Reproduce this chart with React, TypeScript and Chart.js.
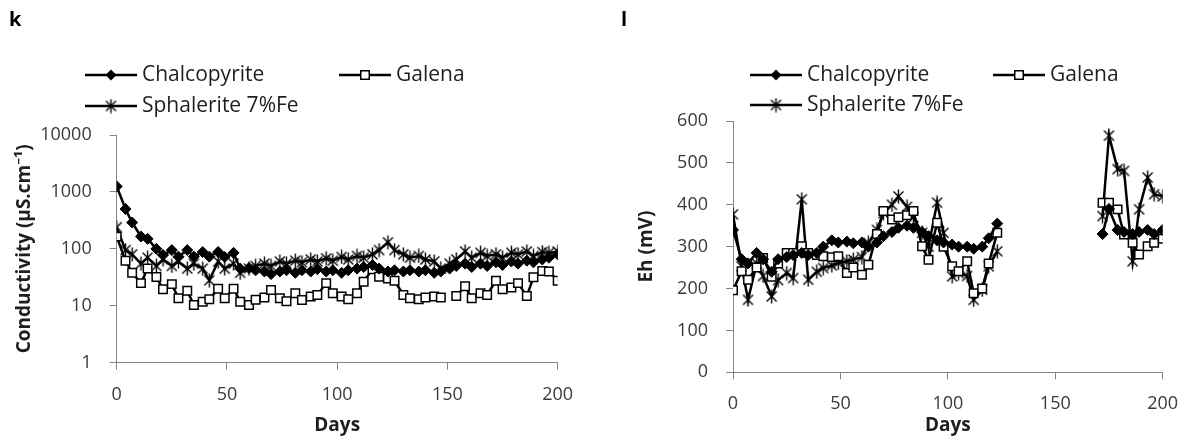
import React, { useEffect, useRef } from 'react';
import { Chart, registerables } from 'chart.js';

Chart.register(...registerables);

// ---------- data ----------
const DAYS = [0, 4, 7, 11, 14, 18, 21, 25, 28, 32, 35, 39, 42, 46, 49, 53, 56, 60, 63, 67, 70, 74, 77, 81, 84, 88, 91, 95, 98, 102, 105, 109, 112, 116, 119, 123, 126, 130, 133, 137, 140, 144, 147, 151, 154, 158, 161, 165, 168, 172, 175, 179, 182, 186, 189, 193, 196, 200];

const SERIES_NAMES = ['Chalcopyrite', 'Galena', 'Sphalerite 7%Fe'];

// Panel k: conductivity (µS/cm), log scale
const COND_CHALCOPYRITE = [1250, 500, 290, 165, 150, 100, 78, 95, 73, 95, 73, 88, 73, 88, 72, 85, 45, 46, 42, 40, 36, 40, 42, 38, 42, 40, 44, 40, 42, 38, 42, 45, 48, 52, 45, 40, 42, 40, 42, 40, 42, 38, 40, 45, 50, 55, 48, 55, 50, 58, 52, 60, 55, 62, 58, 65, 70, 80];
const COND_GALENA = [164, 62, 38, 25, 45, 32, 19.5, 24, 13.5, 18.4, 10.3, 11.8, 13, 20, 13.5, 20, 11.8, 10.3, 12.7, 14, 18.9, 13.5, 12, 16.6, 12.6, 14.5, 15.5, 25, 16.6, 14.5, 13, 16.6, 26.5, 44, 32.5, 30, 27.6, 15.5, 13.5, 13, 14, 14.5, 14, null, 14.8, 22, 13.5, 16.6, 15.5, 27.6, 19.5, 21, 25, 14.8, 31.6, 41, 40, 27.6];
const COND_SPHALERITE = [240, 95, 80, 55, 70, 50, 65, 50, 60, 45, 55, 45, 28, 60, 45, 55, 38, 45, 50, 55, 50, 60, 55, 62, 58, 65, 60, 68, 62, 72, 65, 75, 70, 80, 95, 130, 95, 80, 70, 75, 65, 60, 45, 55, 65, 90, 70, 85, 75, 80, 70, 85, 80, 90, 75, 88, 85, 90];

// Panel l: Eh (mV)
const EH_CHALCOPYRITE = [340, 270, 260, 285, 270, 240, 270, 275, 280, 285, 280, 285, 300, 315, 310, 312, 308, 310, 300, 310, 325, 335, 345, 350, 345, 335, 325, 315, 310, 305, 300, 300, 295, 300, 320, 355, null, null, null, null, null, null, null, null, null, null, null, null, null, 330, 390, 340, 335, 330, 335, 340, 330, 340];
const EH_GALENA = [196, 241, 221, 250, 273, 228, 260, 285, 285, 301, 285, 280, 277, 275, 277, 237, 250, 233, 257, 330, 385, 365, 370, 375, 385, 301, 269, 357, 300, 253, 241, 265, 189, 200, 260, 333, null, null, null, null, null, null, null, null, null, null, null, null, null, 405, 405, 389, 329, 309, 281, 301, 309, 319];
const EH_SPHALERITE = [377, 253, 173, 260, 230, 181, 220, 237, 225, 413, 221, 240, 249, 255, 261, 265, 269, 275, 309, 340, 380, 400, 420, 395, 370, 333, 300, 405, 333, 229, 237, 230, 173, 197, 253, 289, null, null, null, null, null, null, null, null, null, null, null, null, null, 373, 565, 485, 481, 265, 389, 465, 425, 420];

const X_TICKS = [0, 50, 100, 150, 200];
const COND_TICKS = [1, 10, 100, 1000, 10000];
const EH_TICKS = [0, 100, 200, 300, 400, 500, 600];

// ---------- styling ----------
const FONT = '"Open Sans", "Noto Sans", sans-serif';
const AXIS_GRAY = '#868686';
const TICK_COLOR = '#3a3a3a';
const TEXT_COLOR = '#1e1e1e';
const MARKERS = ['diamond', 'square', 'star'];

function makeStar(): HTMLCanvasElement {
  const c = document.createElement('canvas');
  c.width = 15;
  c.height = 15;
  const g = c.getContext('2d')!;
  g.strokeStyle = '#000';
  g.lineWidth = 1.4;
  g.beginPath();
  g.moveTo(2.5, 2.5); g.lineTo(12.5, 12.5);
  g.moveTo(12.5, 2.5); g.lineTo(2.5, 12.5);
  g.moveTo(7.5, 0.5); g.lineTo(7.5, 14.5);
  g.stroke();
  return c;
}

function drawMarker(ctx: CanvasRenderingContext2D, kind: string, x: number, y: number, star: HTMLCanvasElement) {
  if (kind === 'diamond') {
    ctx.beginPath();
    ctx.moveTo(x, y - 5.5); ctx.lineTo(x + 5.5, y); ctx.lineTo(x, y + 5.5); ctx.lineTo(x - 5.5, y);
    ctx.closePath();
    ctx.fillStyle = '#000';
    ctx.fill();
  } else if (kind === 'square') {
    ctx.fillStyle = '#fff';
    ctx.fillRect(x - 4.25, y - 4.25, 8.5, 8.5);
    ctx.strokeStyle = '#000';
    ctx.lineWidth = 1.5;
    ctx.strokeRect(x - 4.25, y - 4.25, 8.5, 8.5);
  } else {
    ctx.drawImage(star, x - 7.5, y - 7.5);
  }
}

type LegendPos = { x: number; y: number };

function legendPlugin(positions: LegendPos[], panelLabel: string, labelPos: LegendPos, star: HTMLCanvasElement) {
  return {
    id: 'customLegend',
    afterDraw(chart: any) {
      const ctx: CanvasRenderingContext2D = chart.ctx;
      ctx.save();
      positions.forEach((p, i) => {
        ctx.strokeStyle = '#000';
        ctx.lineWidth = 2.5;
        ctx.beginPath();
        ctx.moveTo(p.x, p.y);
        ctx.lineTo(p.x + 52, p.y);
        ctx.stroke();
        drawMarker(ctx, MARKERS[i], p.x + 26, p.y, star);
        ctx.fillStyle = TEXT_COLOR;
        ctx.font = `21px ${FONT}`;
        ctx.textBaseline = 'middle';
        ctx.textAlign = 'left';
        ctx.fillText(SERIES_NAMES[i], p.x + 57, p.y);
      });
      ctx.font = `bold 20px ${FONT}`;
      ctx.fillStyle = '#000';
      ctx.textBaseline = 'middle';
      ctx.fillText(panelLabel, labelPos.x, labelPos.y);
      ctx.restore();
    },
  };
}

function makeDatasets(values: (number | null)[][], star: HTMLCanvasElement) {
  return values.map((vals, i) => ({
    label: SERIES_NAMES[i],
    data: DAYS.map((d, j) => ({ x: d, y: vals[j] })),
    borderColor: '#000',
    borderWidth: 2.5,
    backgroundColor: i === 1 ? '#fff' : '#000',
    pointStyle: i === 0 ? 'rectRot' : i === 1 ? 'rect' : star,
    pointRadius: i === 0 ? 5.5 : i === 1 ? 6 : 7,
    pointBorderWidth: i === 1 ? 1.5 : 1,
    pointBorderColor: '#000',
    pointBackgroundColor: i === 1 ? '#fff' : '#000',
    spanGaps: false,
    tension: 0,
  }));
}

function axisCommon() {
  return {
    grid: { display: true, drawOnChartArea: false, drawTicks: true, tickLength: 7, color: AXIS_GRAY, lineWidth: 1 },
    border: { display: true, color: AXIS_GRAY, width: 1 },
  };
}

function xAxis(scaleHeight: number, titlePad: number) {
  return {
    type: 'linear',
    min: 0,
    max: 200,
    afterBuildTicks: (s: any) => { s.ticks = X_TICKS.map((v) => ({ value: v })); },
    ticks: { color: TICK_COLOR, font: { family: FONT, size: 18 }, padding: 14, maxRotation: 0, callback: (v: any) => String(v) },
    ...axisCommon(),
    title: { display: true, text: 'Days', color: TEXT_COLOR, font: { family: FONT, size: 19, weight: 'bold' }, padding: { top: titlePad, bottom: 0 } },
    afterFit: (s: any) => { s.height = scaleHeight; },
  };
}

const PanelK: React.FC = () => {
  const ref = useRef<HTMLCanvasElement>(null);
  useEffect(() => {
    const star = makeStar();
    const chart = new Chart(ref.current!, {
      type: 'line',
      data: { datasets: makeDatasets([COND_CHALCOPYRITE, COND_GALENA, COND_SPHALERITE], star) as any },
      options: {
        animation: false,
        responsive: false,
        layout: { padding: { top: 135, right: 42.3, left: 0, bottom: 0 } },
        plugins: { legend: { display: false }, tooltip: { enabled: false } },
        scales: {
          x: xAxis(74.3, 3) as any,
          y: {
            type: 'logarithmic',
            min: 1,
            max: 10000,
            afterBuildTicks: (s: any) => { s.ticks = COND_TICKS.map((v) => ({ value: v })); },
            ticks: { color: TICK_COLOR, font: { family: FONT, size: 18 }, padding: 18, callback: (v: any) => String(v) },
            ...axisCommon(),
            title: { display: true, text: 'Conductivity (µS.cm⁻¹)', color: TEXT_COLOR, font: { family: FONT, size: 19, weight: 'bold' }, padding: { top: 13, bottom: 0 } },
            afterFit: (s: any) => { s.width = 116.7; },
          } as any,
        },
      },
      plugins: [legendPlugin([{ x: 85, y: 75 }, { x: 339, y: 75 }, { x: 85, y: 106 }], 'k', { x: 9, y: 20 }, star)],
    });
    return () => chart.destroy();
  }, []);
  return <canvas ref={ref} width={600} height={437} style={{ position: 'absolute', left: 0, top: 0, width: 600, height: 437 }} />;
};

const PanelL: React.FC = () => {
  const ref = useRef<HTMLCanvasElement>(null);
  useEffect(() => {
    const star = makeStar();
    const chart = new Chart(ref.current!, {
      type: 'line',
      data: { datasets: makeDatasets([EH_CHALCOPYRITE, EH_GALENA, EH_SPHALERITE], star) as any },
      options: {
        animation: false,
        responsive: false,
        layout: { padding: { top: 121, right: 37.3, left: 0, bottom: 0 } },
        plugins: { legend: { display: false }, tooltip: { enabled: false } },
        scales: {
          x: xAxis(64.7, 3) as any,
          y: {
            type: 'linear',
            min: 0,
            max: 600,
            afterBuildTicks: (s: any) => { s.ticks = EH_TICKS.map((v) => ({ value: v })); },
            ticks: { color: TICK_COLOR, font: { family: FONT, size: 18 }, padding: 18, callback: (v: any) => String(v) },
            ...axisCommon(),
            title: { display: true, text: 'Eh (mV)', color: TEXT_COLOR, font: { family: FONT, size: 19, weight: 'bold' }, padding: { top: 35, bottom: 0 } },
            afterFit: (s: any) => { s.width = 133; },
          } as any,
        },
      },
      plugins: [legendPlugin([{ x: 150, y: 75 }, { x: 393, y: 75 }, { x: 150, y: 105 }], 'l', { x: 21, y: 20 }, star)],
    });
    return () => chart.destroy();
  }, []);
  return <canvas ref={ref} width={600} height={437} style={{ position: 'absolute', left: 600, top: 0, width: 600, height: 437 }} />;
};

const App: React.FC = () => (
  <div style={{ position: 'fixed', left: 0, top: 0, width: 1182, height: 437, background: '#fff', overflow: 'hidden' }}>
    <PanelK />
    <PanelL />
  </div>
);

export default App;
